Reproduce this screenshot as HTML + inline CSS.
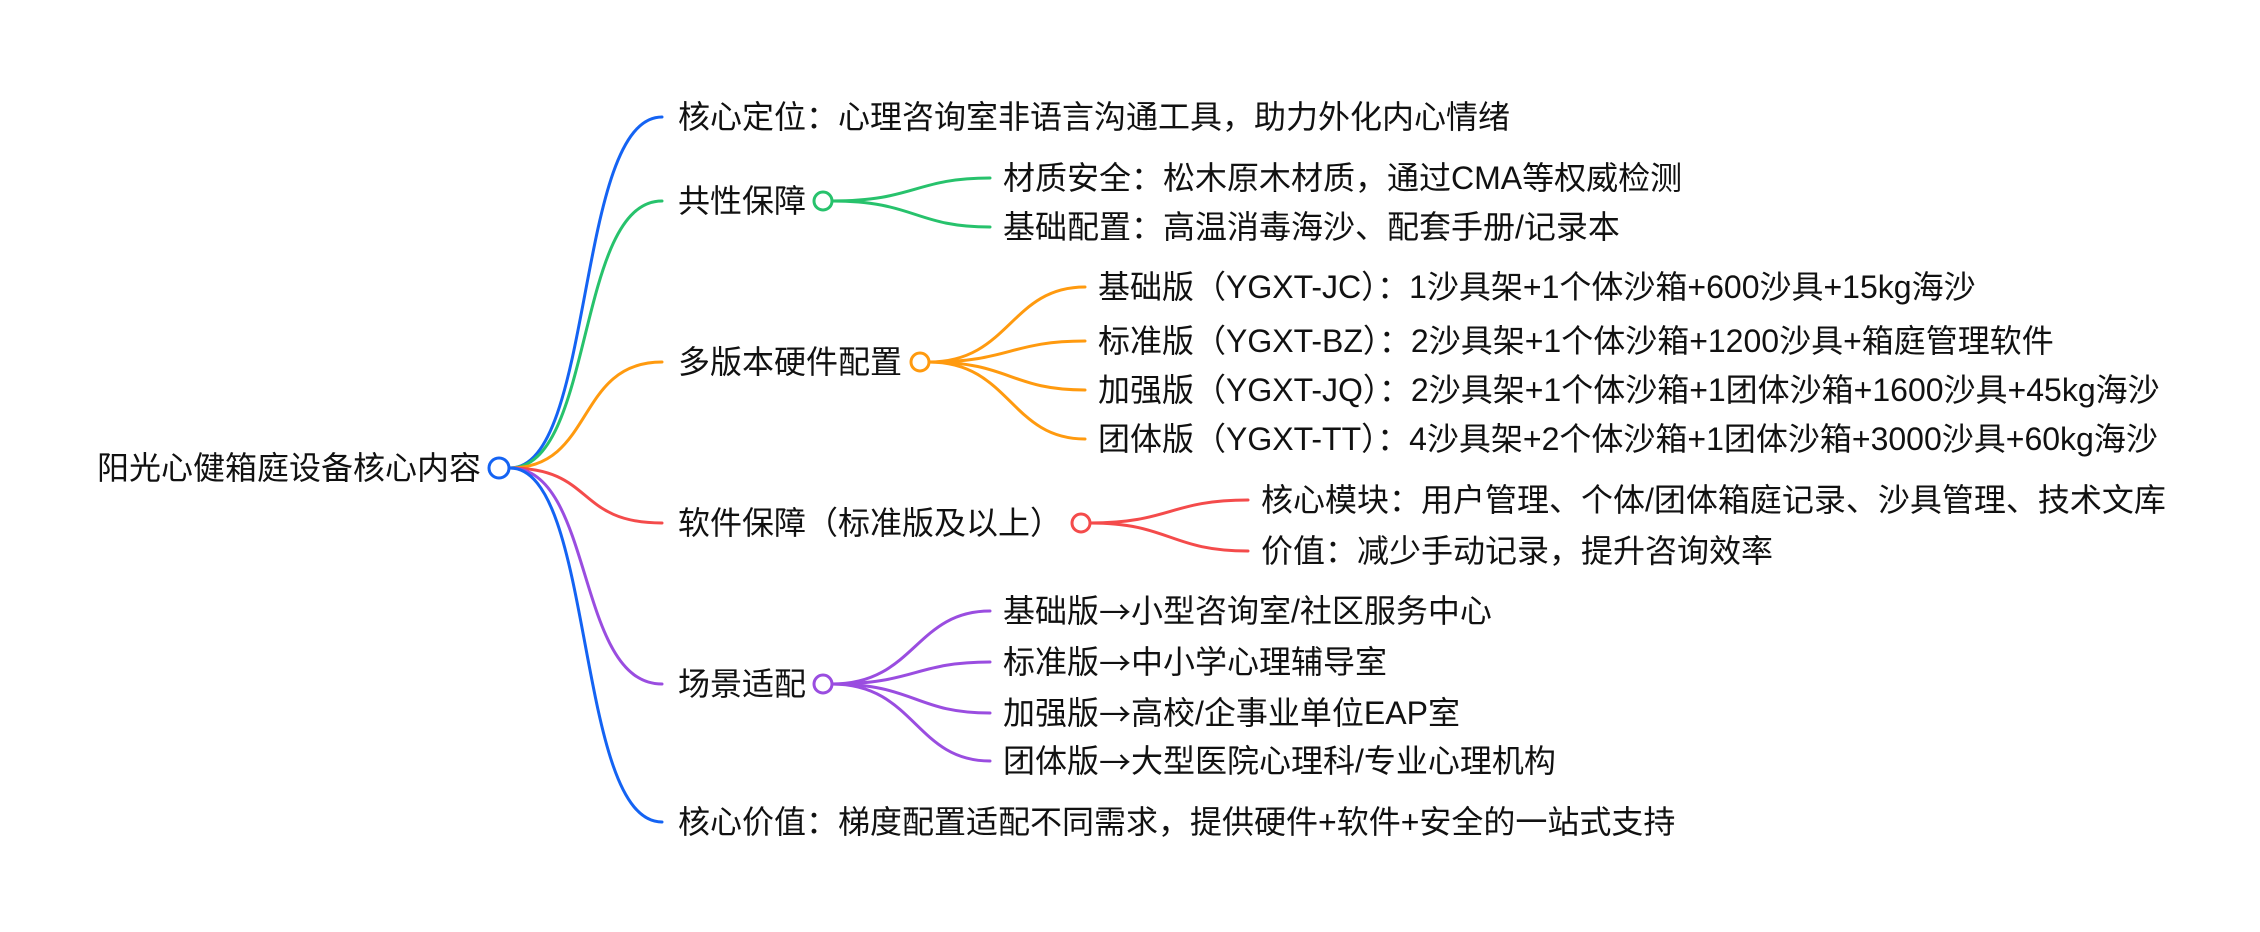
<!DOCTYPE html>
<html><head><meta charset="utf-8"><style>
html,body{margin:0;padding:0;background:#fff;}
svg{display:block}
text{font-family:"Liberation Sans","Noto Sans CJK SC",sans-serif;font-size:32px;fill:#111;dominant-baseline:central}
.a{font-family:"Noto Sans CJK SC",sans-serif}
path{fill:none;stroke-width:3;stroke-linecap:round}
circle{fill:#fff;stroke-width:3}
</style></head><body>
<svg width="2260" height="932" viewBox="0 0 2260 932" xmlns="http://www.w3.org/2000/svg">
<path d="M510 468 C595 468 575 117 662 117" stroke="#1463f3"/>
<path d="M510 468 C595 468 575 201 662 201" stroke="#27c26c"/>
<path d="M510 468 C595 468 575 362 662 362" stroke="#ff9a0f"/>
<path d="M510 468 C595 468 575 523 662 523" stroke="#f44b4b"/>
<path d="M510 468 C595 468 575 684 662 684" stroke="#9a4de0"/>
<path d="M510 468 C595 468 575 822 662 822" stroke="#1463f3"/>
<path d="M832 201 C915 201 915 178 990 178" stroke="#27c26c"/>
<path d="M832 201 C915 201 915 227 990 227" stroke="#27c26c"/>
<path d="M929 362 C1010 362 1010 287 1085 287" stroke="#ff9a0f"/>
<path d="M929 362 C1010 362 1010 341 1085 341" stroke="#ff9a0f"/>
<path d="M929 362 C1010 362 1010 390 1085 390" stroke="#ff9a0f"/>
<path d="M929 362 C1010 362 1010 439 1085 439" stroke="#ff9a0f"/>
<path d="M1090 523 C1170 523 1170 500 1248 500" stroke="#f44b4b"/>
<path d="M1090 523 C1170 523 1170 551 1248 551" stroke="#f44b4b"/>
<path d="M832 684 C915 684 915 611 990 611" stroke="#9a4de0"/>
<path d="M832 684 C915 684 915 662 990 662" stroke="#9a4de0"/>
<path d="M832 684 C915 684 915 713 990 713" stroke="#9a4de0"/>
<path d="M832 684 C915 684 915 761 990 761" stroke="#9a4de0"/>
<circle cx="499" cy="468" r="10" stroke="#1463f3"/>
<circle cx="823" cy="201" r="9" stroke="#27c26c"/>
<circle cx="920" cy="362" r="9" stroke="#ff9a0f"/>
<circle cx="1081" cy="523" r="9" stroke="#f44b4b"/>
<circle cx="823" cy="684" r="9" stroke="#9a4de0"/>
<text x="97" y="468">阳光心健箱庭设备核心内容</text>
<text x="678" y="117">核心定位：心理咨询室非语言沟通工具，助力外化内心情绪</text>
<text x="678" y="201">共性保障</text>
<text x="1003" y="178">材质安全：松木原木材质，通过CMA等权威检测</text>
<text x="1003" y="227">基础配置：高温消毒海沙、配套手册/记录本</text>
<text x="678" y="362">多版本硬件配置</text>
<text x="1098" y="287">基础版（YGXT-JC）：1沙具架+1个体沙箱+600沙具+15kg海沙</text>
<text x="1098" y="341">标准版（YGXT-BZ）：2沙具架+1个体沙箱+1200沙具+箱庭管理软件</text>
<text x="1098" y="390">加强版（YGXT-JQ）：2沙具架+1个体沙箱+1团体沙箱+1600沙具+45kg海沙</text>
<text x="1098" y="439">团体版（YGXT-TT）：4沙具架+2个体沙箱+1团体沙箱+3000沙具+60kg海沙</text>
<text x="678" y="523">软件保障（标准版及以上）</text>
<text x="1261" y="500">核心模块：用户管理、个体/团体箱庭记录、沙具管理、技术文库</text>
<text x="1261" y="551">价值：减少手动记录，提升咨询效率</text>
<text x="678" y="684">场景适配</text>
<text x="1003" y="611">基础版<tspan class="a">→</tspan>小型咨询室/社区服务中心</text>
<text x="1003" y="662">标准版<tspan class="a">→</tspan>中小学心理辅导室</text>
<text x="1003" y="713">加强版<tspan class="a">→</tspan>高校/企事业单位EAP室</text>
<text x="1003" y="761">团体版<tspan class="a">→</tspan>大型医院心理科/专业心理机构</text>
<text x="678" y="822">核心价值：梯度配置适配不同需求，提供硬件+软件+安全的一站式支持</text>
</svg>
</body></html>
